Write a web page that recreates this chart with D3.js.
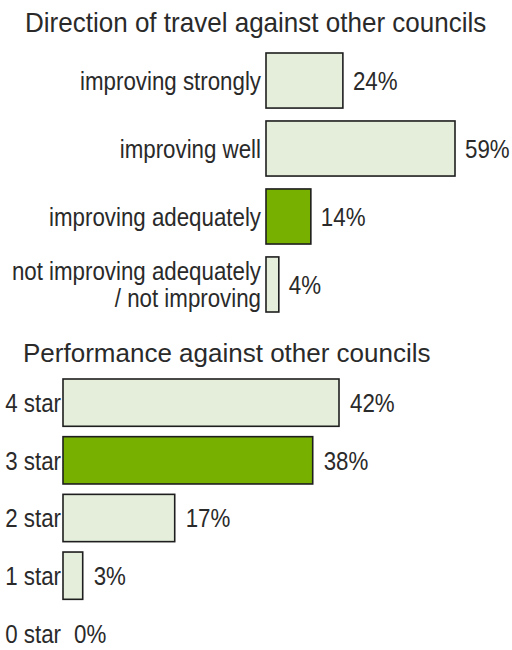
<!DOCTYPE html>
<html>
<head>
<meta charset="utf-8">
<script src="https://cdn.jsdelivr.net/npm/d3@7"></script>
<style>
  html, body { margin: 0; padding: 0; background: #fff; }
  svg { display: block; }
  text { font-family: "Liberation Sans", Arial, sans-serif; fill: #2a2a2a; }
</style>
</head>
<body>
<svg id="chart" width="512" height="650"></svg>
<script>
// Direction of travel
const travelCategories = [
  ["improving strongly"],
  ["improving well"],
  ["improving adequately"],
  ["not improving adequately", "/ not improving"]
];
const travelValues = [24, 59, 14, 4];
const travelHighlight = "improving adequately";

// Star rating
const starCategories = ["4 star", "3 star", "2 star", "1 star", "0 star"];
const starValues = [42, 38, 17, 3, 0];
const starHighlight = "3 star";

const titles = ["Direction of travel against other councils", "Performance against other councils"];

const LIGHT = "#e4eedb", GREEN = "#78b000", STROKE = "#1e1e1e";
const LABEL_SIZE = 25.5, LABEL_SX = 0.875;
const svg = d3.select("#chart");

// text placed with a narrow horizontal scale
function narrowText(sel, x, y, size, sx) {
  return sel.append("text")
    .attr("transform", `translate(${x},${y}) scale(${sx},1)`)
    .attr("font-size", size);
}

function panel(opts) {
  const keys = opts.categories.map(c => Array.isArray(c) ? c.join(" ") : c);
  const data = keys.map((k, i) => ({
    key: k,
    lines: Array.isArray(opts.categories[i]) ? opts.categories[i] : [opts.categories[i]],
    value: opts.values[i]
  }));

  const x = d3.scaleLinear().domain([0, opts.maxValue]).range([opts.x0, opts.x1]);
  const y = d3.scaleBand().domain(keys).range(opts.yRange).paddingInner(opts.pad).paddingOuter(0);

  narrowText(svg, opts.titleX, opts.titleY, opts.titleSize, opts.titleSx).text(opts.title);

  const g = svg.append("g");

  g.selectAll("rect").data(data.filter(d => d.value > 0)).join("rect")
    .attr("x", x(0))
    .attr("y", d => y(d.key))
    .attr("width", d => x(d.value) - x(0))
    .attr("height", y.bandwidth())
    .attr("fill", d => d.key === opts.highlight ? GREEN : LIGHT)
    .attr("stroke", STROKE)
    .attr("stroke-width", 1.6);

  data.forEach(d => {
    const cy = y(d.key) + y.bandwidth() / 2;
    const n = d.lines.length;
    // category label, right-aligned against the bar start
    d.lines.forEach((line, i) => {
      narrowText(g, opts.labelX, cy + (i - (n - 1) / 2) * 27, LABEL_SIZE, LABEL_SX)
        .attr("text-anchor", "end")
        .attr("dy", "0.36em")
        .text(line);
    });
    // value label after the bar end
    narrowText(g, x(d.value) + opts.valueGap, cy, LABEL_SIZE, LABEL_SX)
      .attr("dy", "0.36em")
      .text(d.value + "%");
  });
}

panel({
  title: titles[0], titleX: 25, titleY: 32, titleSize: 28, titleSx: 0.93,
  categories: travelCategories, values: travelValues, highlight: travelHighlight,
  maxValue: 59, x0: 266, x1: 455,
  yRange: [53, 312], pad: 0.19,
  labelX: 261, valueGap: 10
});

panel({
  title: titles[1], titleX: 23, titleY: 362, titleSize: 26, titleSx: 1.0,
  categories: starCategories, values: starValues, highlight: starHighlight,
  maxValue: 42, x0: 63, x1: 339,
  yRange: [379, 657], pad: 0.18,
  labelX: 61, valueGap: 11
});
</script>
</body>
</html>
